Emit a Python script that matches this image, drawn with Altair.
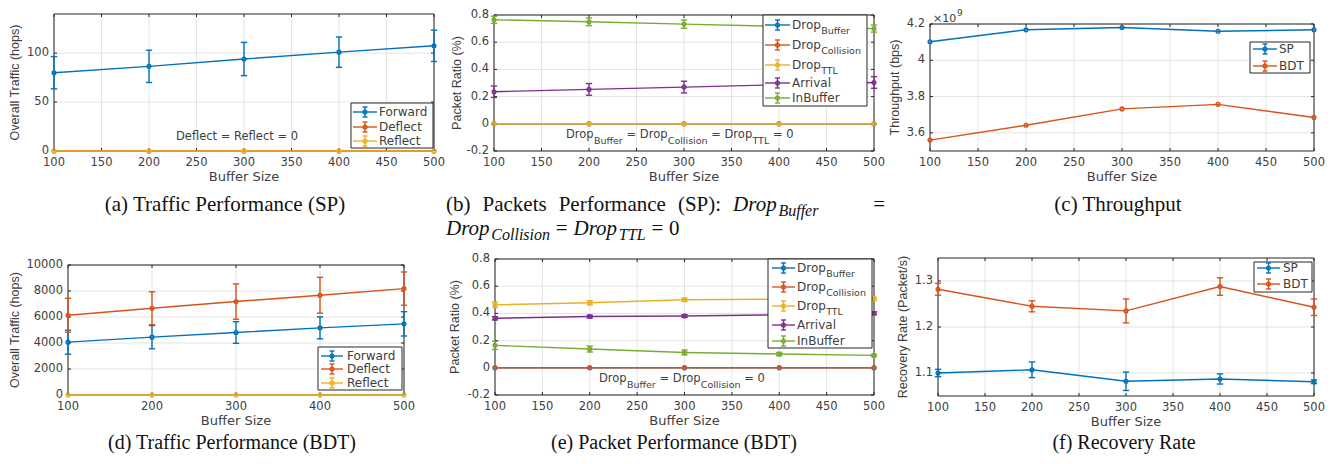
import altair as alt
import pandas as pd

# ---------------- data ----------------
buffer_sizes = [100, 200, 300, 400, 500]

# (a) Traffic Performance (SP)
a_forward = [80.0, 86.5, 94.0, 101.0, 107.5]
a_forward_err = [16.5, 16.5, 17.0, 15.5, 16.0]
a_deflect = [0, 0, 0, 0, 0]
a_reflect = [0, 0, 0, 0, 0]

# (b) Packets Performance (SP)
b_drop_buffer = [0, 0, 0, 0, 0]
b_drop_collision = [0, 0, 0, 0, 0]
b_drop_ttl = [0, 0, 0, 0, 0]
b_arrival = [0.236, 0.253, 0.270, 0.287, 0.304]
b_arrival_err = [0.042, 0.043, 0.043, 0.043, 0.043]
b_inbuffer = [0.765, 0.750, 0.733, 0.716, 0.700]
b_inbuffer_err = [0.026, 0.028, 0.030, 0.028, 0.026]

# (c) Throughput (bps)
c_sp = [4.102e9, 4.168e9, 4.181e9, 4.160e9, 4.168e9]
c_bdt = [3.560e9, 3.642e9, 3.732e9, 3.757e9, 3.685e9]

# (d) Traffic Performance (BDT)
d_forward = [4066, 4450, 4808, 5166, 5473]
d_forward_err = [920, 895, 830, 845, 935]
d_deflect = [6138, 6675, 7187, 7673, 8184]
d_deflect_err = [1300, 1265, 1360, 1380, 1280]
d_reflect = [0, 0, 0, 0, 0]

# (e) Packet Performance (BDT)
e_drop_buffer = [0, 0, 0, 0, 0]
e_drop_collision = [0, 0, 0, 0, 0]
e_drop_ttl = [0.463, 0.478, 0.500, 0.505, 0.507]
e_drop_ttl_err = [0.020, 0.015, 0.012, 0.012, 0.012]
e_arrival = [0.364, 0.377, 0.381, 0.390, 0.401]
e_arrival_err = [0.012, 0.010, 0.010, 0.010, 0.010]
e_inbuffer = [0.165, 0.138, 0.113, 0.101, 0.091]
e_inbuffer_err = [0.030, 0.022, 0.018, 0.012, 0.008]

# (f) Recovery Rate
f_sp = [1.100, 1.107, 1.082, 1.087, 1.081]
f_sp_err = [0.008, 0.017, 0.020, 0.011, 0.004]
f_bdt = [1.282, 1.245, 1.235, 1.288, 1.243]
f_bdt_err = [0.013, 0.012, 0.026, 0.019, 0.018]

# ticks
x_ticks_50 = [100, 150, 200, 250, 300, 350, 400, 450, 500]
x_labels_50 = ["100", "150", "200", "250", "300", "350", "400", "450", "500"]
x_ticks_100 = [100, 200, 300, 400, 500]
x_labels_100 = ["100", "200", "300", "400", "500"]
a_y_ticks = [0, 50, 100]
a_y_labels = ["0", "50", "100"]
ratio_y_ticks = [-0.2, 0, 0.2, 0.4, 0.6, 0.8]
ratio_y_labels = ["-0.2", "0", "0.2", "0.4", "0.6", "0.8"]
c_y_ticks = [3.6e9, 3.8e9, 4.0e9, 4.2e9]
c_y_labels = ["3.6", "3.8", "4", "4.2"]
d_y_ticks = [0, 2000, 4000, 6000, 8000, 10000]
d_y_labels = ["0", "2000", "4000", "6000", "8000", "10000"]
f_y_ticks = [1.1, 1.2, 1.3]
f_y_labels = ["1.1", "1.2", "1.3"]

# ---------------- style ----------------
O = 8
BLUE, ORANGE, YELLOW, PURPLE, GREEN = "#0072BD", "#D95319", "#EDB120", "#7E2F8E", "#77AC30"
TXT = "#404040"
FRAME = "#262626"
GRID = "#e4e4e4"
SANS = "DejaVu Sans"
SANS2 = "Liberation Sans"
SERIF = "Liberation Serif"
LW = 1.4

DV = {' ': 0.318, '=': 0.838, '0': 0.636, '1': 0.636, 'D': 0.770, 'r': 0.411, 'o': 0.612,
      'p': 0.635, 'B': 0.686, 'u': 0.634, 'f': 0.352, 'e': 0.615, 'C': 0.698, 'l': 0.278,
      'i': 0.278, 's': 0.521, 'n': 0.634, 'T': 0.611, 'L': 0.557, '×': 0.838}
TR = {'(': .333, ')': .333, 'b': .5, 'P': .556, 'a': .444, 'c': .444, 'k': .5, 'e': .444,
      't': .278, 's': .389, 'r': .333, 'f': .333, 'o': .5, 'm': .778, 'n': .5, 'S': .556,
      ':': .278, '=': .564, '0': .5, ' ': .25}
TI = {'D': .722, 'r': .389, 'o': .5, 'p': .5, 'B': .611, 'u': .5, 'f': .278, 'e': .444,
      'C': .667, 'l': .278, 'i': .278, 's': .389, 'n': .5, 'T': .556, 'L': .556}


def tw(s, fs, table=DV):
    return sum(table.get(ch, 0.6) for ch in s) * fs


def P(v):
    return v - O


ONE = pd.DataFrame({"k": [0]})

panels = {
    "a": dict(l=54, r=434, t=14, b=151, xd=[100, 500], yd=[0, 140]),
    "b": dict(l=494, r=874, t=15, b=151, xd=[100, 500], yd=[-0.2, 0.8]),
    "c": dict(l=930, r=1314, t=24, b=151, xd=[100, 500], yd=[3.5e9, 4.2e9]),
    "d": dict(l=68, r=404, t=265, b=395, xd=[100, 500], yd=[0, 10000]),
    "e": dict(l=495, r=874, t=259, b=395, xd=[100, 500], yd=[-0.2, 0.8]),
    "f": dict(l=938, r=1314, t=258, b=396, xd=[100, 500], yd=[1.05, 1.35]),
}


def xscale(p):
    return alt.Scale(domain=p["xd"], range=[P(p["l"]), P(p["r"])], nice=False, zero=False)


def yscale(p):
    return alt.Scale(domain=p["yd"], range=[P(p["b"]), P(p["t"])], nice=False, zero=False)


def text(s, x, y, size, font=SANS, align="left", baseline="middle", angle=0, color=TXT, style=None):
    kw = dict(text=s, align=align, baseline=baseline, font=font, fontSize=size, color=color)
    if angle:
        kw["angle"] = angle
    if style:
        kw["fontStyle"] = style
    return alt.Chart(ONE).mark_text(**kw).encode(x=alt.value(P(x)), y=alt.value(P(y)))


def hrule(x0, x1, y, color, w=LW):
    return alt.Chart(ONE).mark_rule(color=color, strokeWidth=w).encode(
        x=alt.value(P(x0)), x2=alt.value(P(x1)), y=alt.value(P(y)))


def vrule(x, y0, y1, color, w=LW):
    return alt.Chart(ONE).mark_rule(color=color, strokeWidth=w).encode(
        x=alt.value(P(x)), y=alt.value(P(y0)), y2=alt.value(P(y1)))


def box(l, t, r, b, fill=None, stroke=FRAME, w=1):
    if fill:
        m = alt.Chart(ONE).mark_rect(fill=fill, stroke=stroke, strokeWidth=w)
    else:
        m = alt.Chart(ONE).mark_rect(fillOpacity=0, stroke=stroke, strokeWidth=w)
    return m.encode(x=alt.value(P(l)), x2=alt.value(P(r)), y=alt.value(P(t)), y2=alt.value(P(b)))


def axes(p, xt, xl, yt, yl, ytitle, ytx):
    X = alt.X("t:Q", scale=xscale(p), axis=None)
    Y = alt.Y("t:Q", scale=yscale(p), axis=None)
    dfx = pd.DataFrame({"t": xt, "lab": xl})
    dfy = pd.DataFrame({"t": yt, "lab": yl})
    L = []
    L.append(alt.Chart(dfx).mark_rule(color=GRID, strokeWidth=1).encode(
        x=X, y=alt.value(P(p["t"])), y2=alt.value(P(p["b"]))))
    L.append(alt.Chart(dfy).mark_rule(color=GRID, strokeWidth=1).encode(
        y=Y, x=alt.value(P(p["l"])), x2=alt.value(P(p["r"]))))
    L.append(box(p["l"], p["t"], p["r"], p["b"]))
    for y0, y1 in [(p["b"], p["b"] - 3), (p["t"], p["t"] + 3)]:
        L.append(alt.Chart(dfx).mark_rule(color=FRAME, strokeWidth=1).encode(
            x=X, y=alt.value(P(y0)), y2=alt.value(P(y1))))
    for x0, x1 in [(p["l"], p["l"] + 3), (p["r"], p["r"] - 3)]:
        L.append(alt.Chart(dfy).mark_rule(color=FRAME, strokeWidth=1).encode(
            y=Y, x=alt.value(P(x0)), x2=alt.value(P(x1))))
    L.append(alt.Chart(dfx).mark_text(font=SANS, fontSize=11.5, color=TXT, align="center",
                                       baseline="middle").encode(
        x=X, y=alt.value(P(p["b"] + 12)), text="lab:N"))
    L.append(alt.Chart(dfy).mark_text(font=SANS, fontSize=11.5, color=TXT, align="right",
                                       baseline="middle").encode(
        y=Y, x=alt.value(P(p["l"] - 5)), text="lab:N"))
    L.append(text("Buffer Size", (p["l"] + p["r"]) / 2, p["b"] + 26, 13, align="center"))
    L.append(text(ytitle, ytx, (p["t"] + p["b"]) / 2, 12.5, font=SANS2, align="center", angle=270))
    return L


def series(p, vals, errs, color):
    df = pd.DataFrame({"x": buffer_sizes, "y": vals})
    X = alt.X("x:Q", scale=xscale(p), axis=None)
    L = [alt.Chart(df).mark_line(color=color, strokeWidth=LW).encode(
        x=X, y=alt.Y("y:Q", scale=yscale(p), axis=None))]
    if errs is not None:
        de = pd.DataFrame({"x": buffer_sizes, "y": vals, "e": errs})
        base = alt.Chart(de).transform_calculate(lo="datum.y - datum.e", hi="datum.y + datum.e")
        L.append(base.mark_rule(color=color, strokeWidth=LW).encode(
            x=X, y=alt.Y("lo:Q", scale=yscale(p), axis=None), y2="hi:Q"))
        for f in ["lo", "hi"]:
            L.append(base.mark_point(shape="M-1,0L1,0", size=40, filled=False, color=color,
                                     strokeWidth=LW, opacity=1).encode(
                x=X, y=alt.Y(f + ":Q", scale=yscale(p), axis=None)))
    L.append(alt.Chart(df).mark_point(shape="circle", size=14, filled=False, color=color,
                                      strokeWidth=1.4, opacity=1).encode(
        x=X, y=alt.Y("y:Q", scale=yscale(p), axis=None)))
    return L


def rich(pieces, x, y, fs, subfs, subdy):
    """pieces: list of (string, is_sub)"""
    L = []
    cur = x
    for s, sub in pieces:
        size = subfs if sub else fs
        lead = len(s) - len(s.lstrip(" "))
        st = s.strip(" ")
        xs = cur + tw(" " * lead, size)
        if st:
            L.append(text(st, xs, y + (subdy if sub else 0), size))
        cur += tw(s, size)
    return L


def legend(l, t, r, b, entries, lx0, lx1, tx, fs=12, subfs=9.5):
    L = [box(l, t, r, b, fill="white")]
    mid = (lx0 + lx1) / 2
    for lab, sub, y, col in entries:
        L.append(hrule(lx0, lx1, y, col))
        L.append(vrule(mid, y - 5, y + 5, col))
        L.append(hrule(mid - 2.5, mid + 2.5, y - 5, col))
        L.append(hrule(mid - 2.5, mid + 2.5, y + 5, col))
        L.append(alt.Chart(ONE).mark_point(shape="circle", size=14, filled=False, color=col,
                                           strokeWidth=1.4, opacity=1).encode(
            x=alt.value(P(mid)), y=alt.value(P(y))))
        L.append(text(lab, tx, y, fs))
        if sub:
            L.append(text(sub, tx + tw(lab, fs), y + 6, subfs))
    return L


layers = []

# ---- (a)
p = panels["a"]
layers += axes(p, x_ticks_50, x_labels_50, a_y_ticks, a_y_labels, "Overall Traffic (hops)", 15)
layers += series(p, a_forward, a_forward_err, BLUE)
layers += series(p, a_deflect, None, ORANGE)
layers += series(p, a_reflect, None, YELLOW)
layers += legend(351, 103, 433, 148, [("Forward", None, 112, BLUE), ("Deflect", None, 127, ORANGE),
                                      ("Reflect", None, 141, YELLOW)], 353, 377, 379)
layers.append(text("Deflect = Reflect = 0", 237, 137, 11.5, align="center"))

# ---- (b)
p = panels["b"]
layers += axes(p, x_ticks_50, x_labels_50, ratio_y_ticks, ratio_y_labels, "Packet Ratio (%)", 457)
layers += series(p, b_drop_buffer, None, BLUE)
layers += series(p, b_drop_collision, None, ORANGE)
layers += series(p, b_drop_ttl, None, YELLOW)
layers += series(p, b_arrival, b_arrival_err, PURPLE)
layers += series(p, b_inbuffer, b_inbuffer_err, GREEN)
layers += legend(763, 15, 867, 106, [("Drop", "Buffer", 25, BLUE), ("Drop", "Collision", 45, ORANGE),
                                     ("Drop", "TTL", 65, YELLOW), ("Arrival", None, 83, PURPLE),
                                     ("InBuffer", None, 98, GREEN)], 765, 790, 792)
layers += rich([("Drop", False), ("Buffer", True), (" = Drop", False), ("Collision", True),
                (" = Drop", False), ("TTL", True), (" = 0", False)], 566, 135, 11.5, 9.5, 6)

# ---- (c)
p = panels["c"]
layers += axes(p, x_ticks_50, x_labels_50, c_y_ticks, c_y_labels, "Throughput (bps)", 895)
layers += series(p, c_sp, None, BLUE)
layers += series(p, c_bdt, None, ORANGE)
layers += legend(1250, 42, 1310, 73, [("SP", None, 49, BLUE), ("BDT", None, 66, ORANGE)], 1253, 1277, 1279)
layers.append(text("×10", 933, 19, 11))
layers.append(text("9", 957, 13, 9))

# ---- (d)
p = panels["d"]
layers += axes(p, x_ticks_100, x_labels_100, d_y_ticks, d_y_labels, "Overall Traffic (hops)", 15)
layers += series(p, d_forward, d_forward_err, BLUE)
layers += series(p, d_deflect, d_deflect_err, ORANGE)
layers += series(p, d_reflect, None, YELLOW)
layers += legend(318, 347, 402, 390, [("Forward", None, 356, BLUE), ("Deflect", None, 369, ORANGE),
                                      ("Reflect", None, 383, YELLOW)], 321, 343, 347)

# ---- (e)
p = panels["e"]
layers += axes(p, x_ticks_50, x_labels_50, ratio_y_ticks, ratio_y_labels, "Packet Ratio (%)", 455)
layers += series(p, e_drop_buffer, None, BLUE)
layers += series(p, e_drop_collision, None, ORANGE)
layers += series(p, e_drop_ttl, e_drop_ttl_err, YELLOW)
layers += series(p, e_arrival, e_arrival_err, PURPLE)
layers += series(p, e_inbuffer, e_inbuffer_err, GREEN)
layers += legend(768, 259, 872, 348, [("Drop", "Buffer", 268, BLUE), ("Drop", "Collision", 287, ORANGE),
                                      ("Drop", "TTL", 306, YELLOW), ("Arrival", None, 325, PURPLE),
                                      ("InBuffer", None, 341, GREEN)], 772, 795, 797)
layers += rich([("Drop", False), ("Buffer", True), (" = Drop", False), ("Collision", True),
                (" = 0", False)], 599, 379, 11.5, 9.5, 6)

# ---- (f)
p = panels["f"]
layers += axes(p, x_ticks_50, x_labels_50, f_y_ticks, f_y_labels, "Recovery Rate (Packet/s)", 903)
layers += series(p, f_sp, f_sp_err, BLUE)
layers += series(p, f_bdt, f_bdt_err, ORANGE)
layers += legend(1254, 262, 1312, 292, [("SP", None, 268, BLUE), ("BDT", None, 284, ORANGE)], 1257, 1280, 1283)

# ---- captions
CFS = 21
CFS2 = 20
CCOL = "#111111"
layers.append(text("(a) Traffic Performance (SP)", 225, 205, CFS, font=SERIF, align="center", color=CCOL))
layers.append(text("(c) Throughput", 1118, 205, CFS, font=SERIF, align="center", color=CCOL))
layers.append(text("(d) Traffic Performance (BDT)", 232, 443, CFS2, font=SERIF, align="center", color=CCOL))
layers.append(text("(e) Packet Performance (BDT)", 674, 443, CFS2, font=SERIF, align="center", color=CCOL))
layers.append(text("(f) Recovery Rate", 1124, 443, CFS2, font=SERIF, align="center", color=CCOL))

# caption (b): first line, words with stretched inter-word gaps, "=" pushed to the right margin
SUBFS = 16
GAPW = 12
cur = 446
for w in ["(b)", "Packets", "Performance", "(SP):"]:
    layers.append(text(w, cur, 205, CFS, font=SERIF, color=CCOL))
    cur += tw(w, CFS, TR) + GAPW
layers.append(text("Drop", cur, 205, CFS, font=SERIF, style="italic", color=CCOL))
cur += tw("Drop", CFS, TI) + 1
layers.append(text("Buffer", cur, 211, SUBFS, font=SERIF, style="italic", color=CCOL))
layers.append(text("=", 885, 205, CFS, font=SERIF, align="right", color=CCOL))
# second line
cur = 446
y2 = 229
msp = 0.2778 * CFS
for main, sub, tail in [("Drop", "Collision", "="), ("Drop", "TTL", "="), (None, None, None)]:
    if main is None:
        layers.append(text("0", cur, y2, CFS, font=SERIF, color=CCOL))
        break
    layers.append(text(main, cur, y2, CFS, font=SERIF, style="italic", color=CCOL))
    cur += tw(main, CFS, TI) + 1
    layers.append(text(sub, cur, y2 + 6, SUBFS, font=SERIF, style="italic", color=CCOL))
    cur += tw(sub, SUBFS, TI) + msp
    layers.append(text(tail, cur, y2, CFS, font=SERIF, color=CCOL))
    cur += tw(tail, CFS, TR) + msp

chart = alt.layer(*layers).resolve_scale(x="independent", y="independent").properties(
    width=1322, height=448, autosize=alt.AutoSizeParams(type="none"), padding=0
).configure_view(stroke=None)

chart.save("out.html", embed_options={"renderer": "svg", "actions": False})
